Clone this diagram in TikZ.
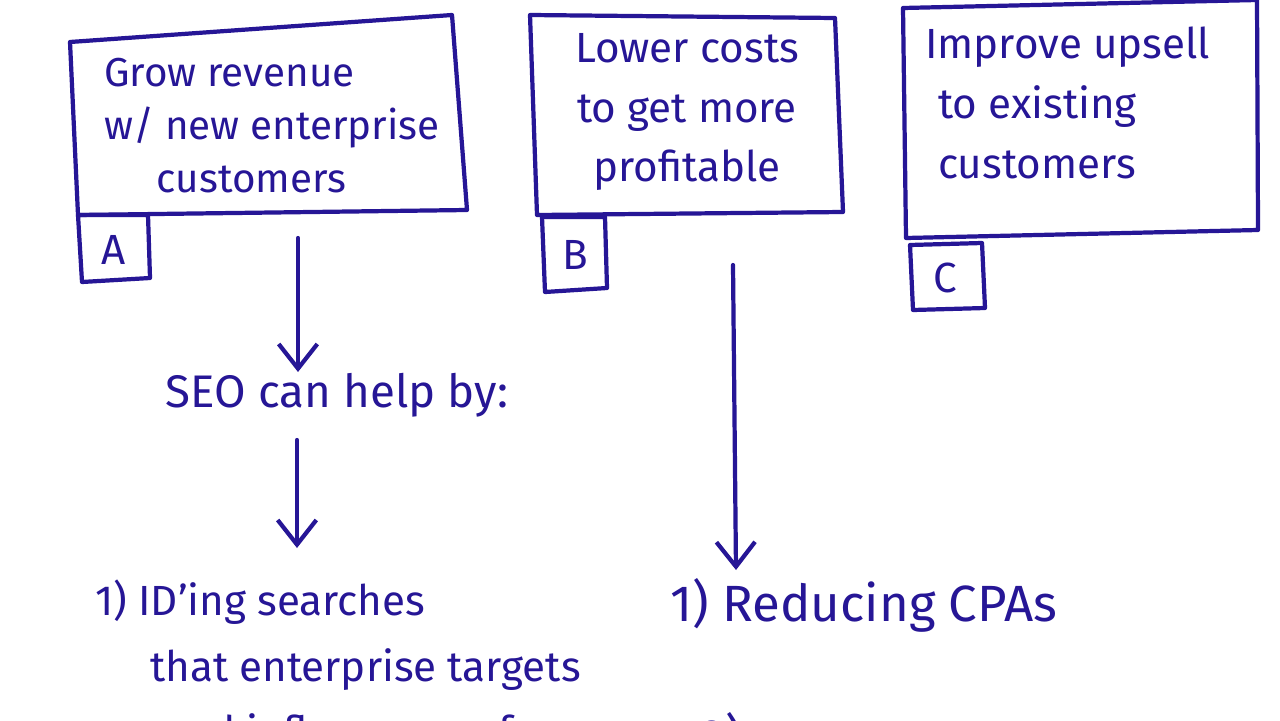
\documentclass[tikz,border=0pt]{standalone}
\usepackage{fontspec}
\setmainfont{Fira Sans}
\usetikzlibrary{arrows.meta}
\definecolor{ink}{RGB}{38,22,150}
\tikzset{
  pen/.style={draw=ink, line width=2.4pt, line join=round, line cap=round},
  hand/.style={text=ink, font=\fontsize{24}{34}\selectfont, inner sep=0pt},
  listtxt/.style={text=ink, font=\fontsize{24}{37}\selectfont, inner sep=0pt, align=left},
  arr/.style={pen, -{Straight Barb[length=14pt,width=22pt,line width=2.4pt]}}
}
\begin{document}
\begin{tikzpicture}[x=0.02cm,y=-0.02cm]
\useasboundingbox (0,0) rectangle (1280,720);
\clip (0,0) rectangle (1280,720);
\fill[white] (0,0) rectangle (1280,720);
% Box A
\coordinate (a1) at (70,42);  \coordinate (a2) at (452,15);
\coordinate (a3) at (467,210); \coordinate (a4) at (78,215);
\draw[pen] (a1) -- (a2) -- (a3) -- (a4) -- cycle;
\node[hand, font=\fontsize{23}{30}\selectfont, anchor=north west, align=left] (ta) at (104,58) {Grow revenue\\w/ new enterprise\\\hspace{1.3em}customers};
\coordinate (la1) at (78,215); \coordinate (la2) at (148,215);
\coordinate (la3) at (150,278); \coordinate (la4) at (82,282);
\draw[pen] (la1) -- (la2) -- (la3) -- (la4) -- cycle;
\node[hand] (labA) at (114,250) {A};
% Box B
\coordinate (b1) at (530,15);  \coordinate (b2) at (835,18);
\coordinate (b3) at (843,212); \coordinate (b4) at (537,215);
\draw[pen] (b1) -- (b2) -- (b3) -- (b4) -- cycle;
\node[hand, align=center] (tb) at (687,112) {Lower costs\\to get more\\profitable};
\coordinate (lb1) at (542,217); \coordinate (lb2) at (605,217);
\coordinate (lb3) at (607,288); \coordinate (lb4) at (545,292);
\draw[pen] (lb1) -- (lb2) -- (lb3) -- (lb4) -- cycle;
\node[hand] (labB) at (575,255) {B};
% Box C
\coordinate (c1) at (903,8);   \coordinate (c2) at (1257,0);
\coordinate (c3) at (1258,230); \coordinate (c4) at (906,238);
\draw[pen] (c1) -- (c2) -- (c3) -- (c4) -- cycle;
\node[hand, anchor=north west, align=left] (tc) at (925,27) {Improve upsell\\\hspace{0.3em}to existing\\\hspace{0.3em}customers};
\coordinate (lc1) at (910,245); \coordinate (lc2) at (982,243);
\coordinate (lc3) at (985,308); \coordinate (lc4) at (913,310);
\draw[pen] (lc1) -- (lc2) -- (lc3) -- (lc4) -- cycle;
\node[hand] (labC) at (945,278) {C};
% Flow under A
\coordinate (sa) at (298,238);
\node[hand, font=\fontsize{26}{34}\selectfont] (seo) at (337,395) {SEO can help by:};
\draw[arr] (sa) -- (298,372);
\coordinate (sb) at (297,440);
\node[listtxt, anchor=north west] (l1) at (95,580) {1) ID'ing searches\\\hspace{1.3em}that enterprise targets\\\hspace{1.6em}and influence perform};
\draw[arr] (sb) -- (297,548);
% Flow under B
\coordinate (sc) at (733,265);
\node[listtxt, font=\fontsize{29}{37}\selectfont, anchor=west] (r1) at (670,605) {1) Reducing CPAs};
\node[listtxt, font=\fontsize{29}{37}\selectfont, anchor=west] (r2) at (700,738) {2)};
\draw[arr] (sc) -- (736,570);
\end{tikzpicture}
\end{document}
